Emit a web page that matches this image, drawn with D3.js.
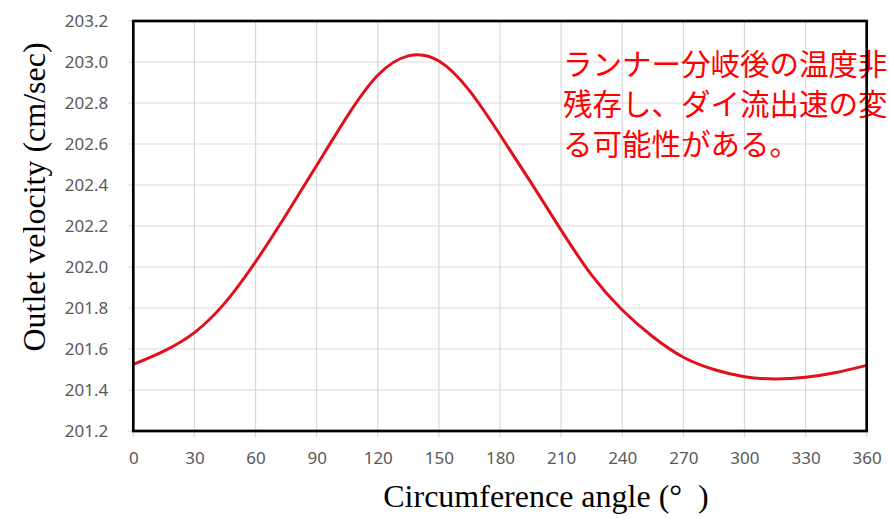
<!DOCTYPE html>
<html>
<head>
<meta charset="utf-8">
<script src="https://d3js.org/d3.v7.min.js"></script>
<style>
  body { margin: 0; background: #fff; }
  svg { display: block; }
</style>
</head>
<body>
<svg width="889" height="519"></svg>
<script>
// data
var angles = [0, 15, 30, 45, 60, 75, 90, 105, 120, 135, 150, 165, 180,
              195, 210, 225, 240, 255, 270, 285, 300, 315, 330, 345, 360];
var velocity = [201.525, 201.59, 201.68, 201.825, 202.025, 202.255, 202.495, 202.735, 202.935, 203.03, 203.005, 202.86, 202.645,
                202.415, 202.18, 201.96, 201.79, 201.66, 201.56, 201.5, 201.465, 201.454, 201.462, 201.485, 201.52];
var xTicks = [0, 30, 60, 90, 120, 150, 180, 210, 240, 270, 300, 330, 360];
var yTicks = [201.2, 201.4, 201.6, 201.8, 202.0, 202.2, 202.4, 202.6, 202.8, 203.0, 203.2];
var note = ["ランナー分岐後の温度非", "残存し、ダイ流出速の変", "る可能性がある。"];

var svg = d3.select("svg"),
    width = +svg.attr("width"),
    height = +svg.attr("height");

// plot box (window.top is reserved, so no "top" here)
var pLeft = 133.3, pRight = 866.7, pTop = 21, pBottom = 431;

var x = d3.scaleLinear().domain([0, 360]).range([pLeft, pRight]);
var y = d3.scaleLinear().domain([201.2, 203.2]).range([pBottom, pTop]);

// grid
var grid = svg.append("g");
grid.selectAll(".vg").data(xTicks).enter().append("line")
    .attr("x1", d => x(d)).attr("x2", d => x(d))
    .attr("y1", pTop).attr("y2", pBottom + 6)
    .style("stroke", "#d9d9d9").style("stroke-width", 1.2);
grid.selectAll(".hg").data(yTicks).enter().append("line")
    .attr("x1", pLeft - 6).attr("x2", pRight)
    .attr("y1", d => y(d)).attr("y2", d => y(d))
    .style("stroke", "#d9d9d9").style("stroke-width", 1.2);

// axes (labels only, frame is drawn later)
var xAxis = svg.append("g")
    .attr("transform", "translate(0," + pBottom + ")")
    .call(d3.axisBottom(x).tickValues(xTicks).tickSize(0).tickPadding(21));
var yAxis = svg.append("g")
    .attr("transform", "translate(" + pLeft + ",0)")
    .call(d3.axisLeft(y).tickValues(yTicks).tickFormat(d3.format(".1f")).tickSize(0).tickPadding(25));

[xAxis, yAxis].forEach(function(a) {
  a.select(".domain").remove();
  a.selectAll("text")
    .style("font-family", "'Noto Sans', sans-serif")
    .style("font-size", "17px")
    .style("fill", "#595959");
});

// curve
var line = d3.line()
    .x((d, i) => x(angles[i]))
    .y(d => y(d))
    .curve(d3.curveNatural);

svg.append("path")
    .datum(velocity)
    .attr("d", line)
    .style("fill", "none")
    .style("stroke", "#e0101c")
    .style("stroke-width", 3);

// annotation
svg.append("g").selectAll("text")
    .data(note)
    .enter().append("text")
    .attr("x", 563)
    .attr("y", (d, i) => 75 + i * 40)
    .style("font-family", "'Noto Sans CJK JP', sans-serif")
    .style("font-size", "29.5px")
    .style("fill", "#ff0000")
    .text(d => d);

// frame on top
svg.append("rect")
    .attr("x", pLeft).attr("y", pTop)
    .attr("width", pRight - pLeft).attr("height", pBottom - pTop)
    .style("fill", "none")
    .style("stroke", "#000")
    .style("stroke-width", 2.7);

// axis titles
svg.append("text")
    .attr("x", 546)
    .attr("y", 507)
    .attr("text-anchor", "middle")
    .style("font-family", "'Liberation Serif', 'Times New Roman', serif")
    .style("font-size", "32px")
    .text("Circumference angle (°\u00a0\u00a0)");

svg.append("text")
    .attr("transform", "translate(45,197) rotate(-90)")
    .attr("text-anchor", "middle")
    .style("font-family", "'Liberation Serif', 'Times New Roman', serif")
    .style("font-size", "32px")
    .text("Outlet velocity (cm/sec)");
</script>
</body>
</html>
